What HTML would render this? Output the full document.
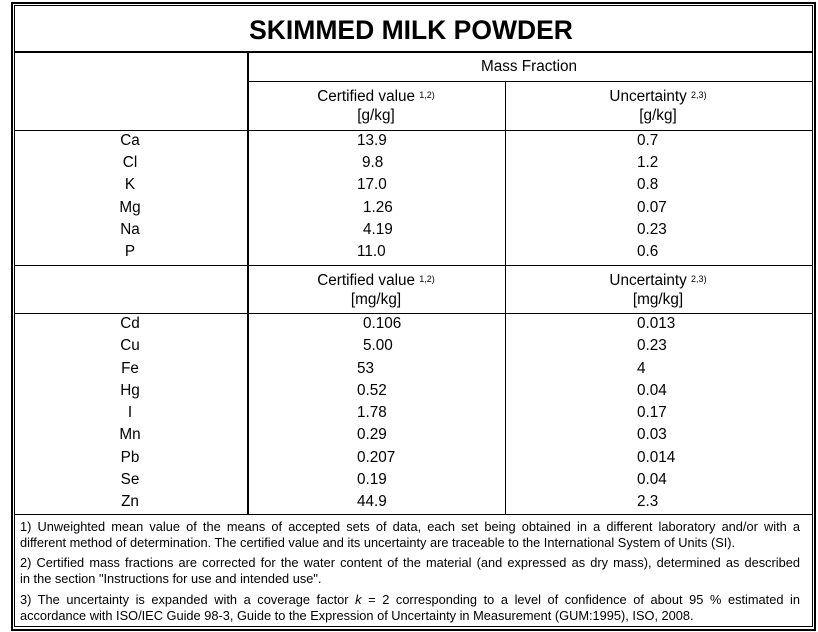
<!DOCTYPE html>
<html><head><meta charset="utf-8"><style>
body{margin:0;background:#fff;width:818px;height:632px;position:relative;overflow:hidden;font-family:"Liberation Sans",Arial,sans-serif;color:#000}
.a{position:absolute;white-space:nowrap}
.l{position:absolute;background:#000}
.t{font-size:15.3px;line-height:18px}
.c{transform:translateX(-50%)}
sup{font-size:9px;position:relative;top:-2px;vertical-align:top}
.fn{position:absolute;left:20px;width:780px;font-size:12.8px;line-height:16px;white-space:nowrap}
.j{text-align:justify;text-align-last:justify;white-space:normal}
</style></head><body>
<div style="position:absolute;left:11px;top:2px;width:801px;height:625px;border:2px solid #000"></div>
<div style="position:absolute;left:14px;top:5px;width:797px;height:620px;border:1px solid #000"></div>
<div class="l" style="left:14px;top:51px;width:798px;height:2px"></div>
<div class="l" style="left:247px;top:51px;width:2px;height:463px"></div>
<div class="l" style="left:248px;top:81px;width:564px;height:1px"></div>
<div class="l" style="left:505px;top:81px;width:1px;height:433px"></div>
<div class="l" style="left:14px;top:130px;width:798px;height:1px"></div>
<div class="l" style="left:14px;top:265px;width:798px;height:1px"></div>
<div class="l" style="left:14px;top:313px;width:798px;height:1px"></div>
<div class="l" style="left:14px;top:514px;width:798px;height:1px"></div>

<div class="a c" style="left:411px;top:14px;font-size:26.5px;font-weight:bold;line-height:32px">SKIMMED MILK POWDER</div>
<div class="a c t" style="left:529px;top:58px">Mass Fraction</div>
<div class="a c t" style="left:376px;top:88px">Certified value <sup>1,2)</sup></div>
<div class="a c t" style="left:376px;top:107px">[g/kg]</div>
<div class="a c t" style="left:658px;top:88px">Uncertainty <sup>2,3)</sup></div>
<div class="a c t" style="left:658px;top:107px">[g/kg]</div>
<div class="a c t" style="left:376px;top:272px">Certified value <sup>1,2)</sup></div>
<div class="a c t" style="left:376px;top:291px">[mg/kg]</div>
<div class="a c t" style="left:658px;top:272px">Uncertainty <sup>2,3)</sup></div>
<div class="a c t" style="left:658px;top:291px">[mg/kg]</div>

<div class="a c t" style="left:130px;top:132px">Ca</div><div class="a t" style="left:357px;top:132px">13.9</div><div class="a t" style="left:637px;top:132px">0.7</div>
<div class="a c t" style="left:130px;top:154px">Cl</div><div class="a t" style="left:362px;top:154px">9.8</div><div class="a t" style="left:637px;top:154px">1.2</div>
<div class="a c t" style="left:130px;top:176px">K</div><div class="a t" style="left:357px;top:176px">17.0</div><div class="a t" style="left:637px;top:176px">0.8</div>
<div class="a c t" style="left:130px;top:199px">Mg</div><div class="a t" style="left:363px;top:199px">1.26</div><div class="a t" style="left:637px;top:199px">0.07</div>
<div class="a c t" style="left:130px;top:221px">Na</div><div class="a t" style="left:363px;top:221px">4.19</div><div class="a t" style="left:637px;top:221px">0.23</div>
<div class="a c t" style="left:130px;top:243px">P</div><div class="a t" style="left:357px;top:243px">11.0</div><div class="a t" style="left:637px;top:243px">0.6</div>

<div class="a c t" style="left:130px;top:315px">Cd</div><div class="a t" style="left:363px;top:315px">0.106</div><div class="a t" style="left:637px;top:315px">0.013</div>
<div class="a c t" style="left:130px;top:337px">Cu</div><div class="a t" style="left:363px;top:337px">5.00</div><div class="a t" style="left:637px;top:337px">0.23</div>
<div class="a c t" style="left:130px;top:360px">Fe</div><div class="a t" style="left:357px;top:360px">53</div><div class="a t" style="left:637px;top:360px">4</div>
<div class="a c t" style="left:130px;top:382px">Hg</div><div class="a t" style="left:357px;top:382px">0.52</div><div class="a t" style="left:637px;top:382px">0.04</div>
<div class="a c t" style="left:130px;top:404px">I</div><div class="a t" style="left:357px;top:404px">1.78</div><div class="a t" style="left:637px;top:404px">0.17</div>
<div class="a c t" style="left:130px;top:426px">Mn</div><div class="a t" style="left:357px;top:426px">0.29</div><div class="a t" style="left:637px;top:426px">0.03</div>
<div class="a c t" style="left:130px;top:449px">Pb</div><div class="a t" style="left:357px;top:449px">0.207</div><div class="a t" style="left:637px;top:449px">0.014</div>
<div class="a c t" style="left:130px;top:471px">Se</div><div class="a t" style="left:357px;top:471px">0.19</div><div class="a t" style="left:637px;top:471px">0.04</div>
<div class="a c t" style="left:130px;top:493px">Zn</div><div class="a t" style="left:357px;top:493px">44.9</div><div class="a t" style="left:637px;top:493px">2.3</div>

<div class="fn j" style="top:519px">1) Unweighted mean value of the means of accepted sets of data, each set being obtained in a different laboratory and/or with a</div>
<div class="fn" style="top:535px">different method of determination. The certified value and its uncertainty are traceable to the International System of Units (SI).</div>
<div class="fn j" style="top:555px">2) Certified mass fractions are corrected for the water content of the material (and expressed as dry mass), determined as described</div>
<div class="fn" style="top:571px">in the section "Instructions for use and intended use".</div>
<div class="fn j" style="top:592px">3) The uncertainty is expanded with a coverage factor <i>k</i> = 2 corresponding to a level of confidence of about 95 % estimated in</div>
<div class="fn" style="top:608px">accordance with ISO/IEC Guide 98-3, Guide to the Expression of Uncertainty in Measurement (GUM:1995), ISO, 2008.</div>
</body></html>
